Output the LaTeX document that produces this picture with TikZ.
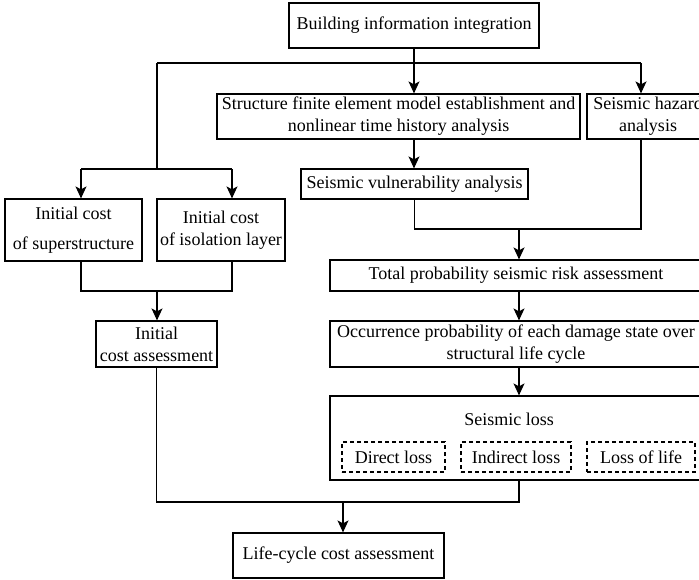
\documentclass[tikz,border=0pt]{standalone}
\usepackage{fontspec}
\setmainfont{Liberation Serif}
\usetikzlibrary{positioning, arrows.meta}

\begin{document}
\begin{tikzpicture}[
        x=1pt, y=-1pt,
        every node/.style={font=\fontsize{18}{22}\selectfont},
        block/.style={rectangle, draw, line width=1.2pt, inner sep=0pt, align=center},
        part/.style={rectangle, draw, line width=1.2pt, dash pattern=on 4pt off 3pt, inner sep=0pt, minimum height=30pt},
        link/.style={line width=1.2pt},
        edge/.style={-{Stealth[length=12pt, width=11pt, inset=3pt]}, line width=1.2pt}
    ]
        \useasboundingbox (0,0) rectangle (699,579);
        % Top layer
        \node[block, minimum width=250pt, minimum height=45pt] (build) at (414,25.5) {Building information integration};
        % Analysis layer
        \node[block, minimum width=363pt, minimum height=45pt] (fem) at (398.5,116.5) {Structure finite element model establishment and\\nonlinear time history analysis};
        \node[block, minimum width=122pt, minimum height=45pt] (haz) at (648,116.5) {Seismic hazard\\analysis};
        \node[block, minimum width=227pt, minimum height=30pt] (vuln) at (414.5,184) {Seismic vulnerability analysis};
        % Initial cost layer
        \node[block, minimum width=137pt, minimum height=62pt] (sup) at (73.5,230) {Initial cost\\[8pt]of superstructure};
        \node[block, minimum width=128pt, minimum height=62pt] (iso) at (221,230) {Initial cost\\of isolation layer};
        \node[block, minimum width=121pt, minimum height=46pt] (init) at (156.5,344) {Initial\\cost assessment};
        % Risk layer
        \node[block, minimum width=372pt, minimum height=31pt] (total) at (516,275.5) {Total probability seismic risk assessment};
        \node[block, minimum width=372pt, minimum height=46pt] (occur) at (516,344) {Occurrence probability of each damage state over\\structural life cycle};
        % Loss layer
        \node[block, minimum width=374pt, minimum height=84pt] (loss) at (517,438) {};
        \node (losstitle) at (509,419) {Seismic loss};
        \node[part, minimum width=103pt] (direct) at (393.5,457) {Direct loss};
        \node[part, minimum width=110pt] (indirect) at (516,457) {Indirect loss};
        \node[part, minimum width=108pt] (life) at (641,457) {Loss of life};
        % Result
        \node[block, minimum width=211pt, minimum height=45pt] (lcca) at (338.5,555.5) {Life-cycle cost assessment};
        % Junctions
        \coordinate (j1) at (157,63);
        \coordinate (j2) at (641,63);
        \coordinate (j3) at (81,169);
        \coordinate (j4) at (232,169);
        \coordinate (m1) at (519,229);
        \coordinate (m2) at (157,291);
        \coordinate (m3) at (343,502);
        % Edges: building information to analyses
        \draw[edge] (build.south) -- (build.south |- fem.north);
        \draw[link] (j1) -- (j2);
        \draw[edge] (j2) -- (j2 |- haz.north);
        \draw[link] (j1) -- (j1 |- j3);
        \draw[link] (j3) -- (j4);
        \draw[edge] (j3) -- (j3 |- sup.north);
        \draw[edge] (j4) -- (j4 |- iso.north);
        \draw[edge] (build.south |- fem.south) -- (build.south |- vuln.north);
        % Edges: analyses to risk and loss
        \draw[link] (vuln.south) |- (j2 |- m1) -- (j2 |- haz.south);
        \draw[edge] (m1) -- (m1 |- total.north);
        \draw[edge] (m1 |- total.south) -- (m1 |- occur.north);
        \draw[edge] (m1 |- occur.south) -- (m1 |- loss.north);
        % Edges: initial cost
        \draw[link] (j3 |- sup.south) |- (j4 |- m2) -- (j4 |- iso.south);
        \draw[edge] (m2) -- (m2 |- init.north);
        % Edges: to life-cycle cost
        \draw[link] (init.south) |- (m1 |- m3) -- (m1 |- loss.south);
        \draw[edge] (m3) -- (m3 |- lcca.north);
    \end{tikzpicture}
\end{document}
